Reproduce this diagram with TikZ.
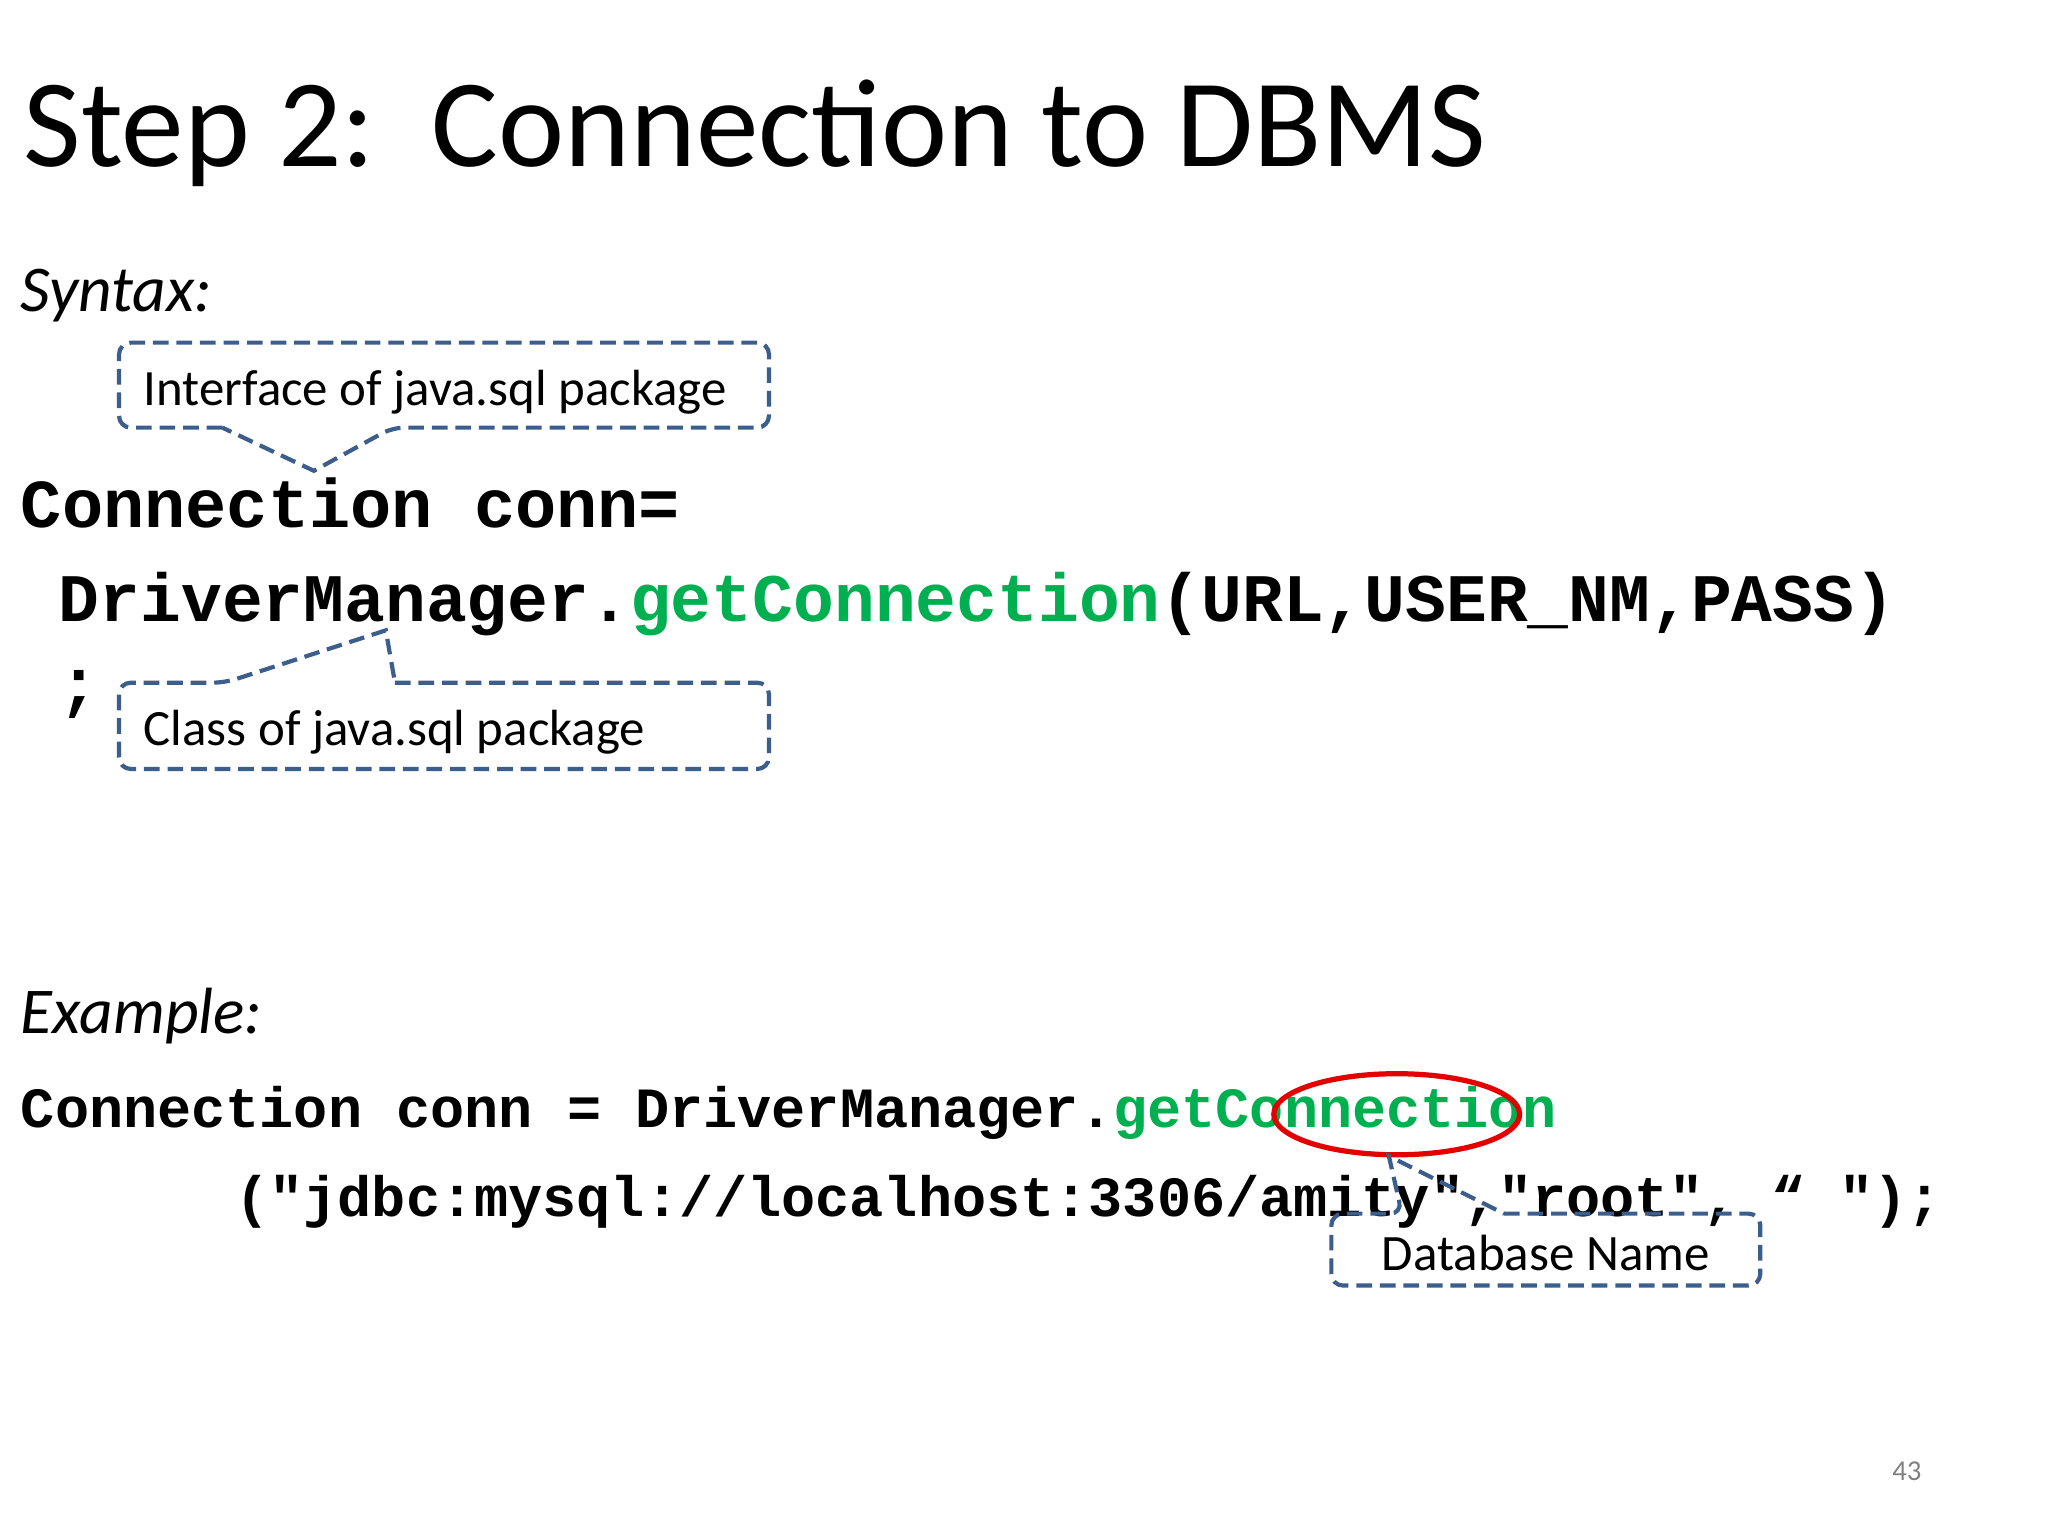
\documentclass[tikz,border=0pt]{standalone}
\usepackage{fontspec}
\setmainfont{Carlito}
\newfontfamily\codefont{Liberation Mono}
\definecolor{boxblue}{HTML}{3B5E8C}
\definecolor{codegreen}{HTML}{00B050}
\begin{document}
\begin{tikzpicture}[x=1pt,y=-1pt,
  txt/.style={anchor=base west,inner sep=0pt,outer sep=0pt},
  callout/.style={draw=boxblue,line width=3.2pt,dash pattern=on 12pt off 6pt},
  code/.style={txt,font=\codefont\bfseries}]
\useasboundingbox (0,0) rectangle (1566,1174.5);
\node[txt,font=\fontsize{95.8}{100}\selectfont] (title) at (18,127) {Step 2:\ \ Connection to DBMS};
\node[txt,font=\fontsize{50}{52}\selectfont\itshape] (syn) at (16,238) {Syntax:};
% callout 1
\draw[callout] [rounded corners=9] (170,327) -| (91,262) -| (588,327) -- (300,327) [sharp corners] -- (240,360) -- cycle;
\node[txt,font=\fontsize{38.9}{40}\selectfont] (c1) at (110,310) {Interface of java.sql package};
\node[code,font=\codefont\bfseries\fontsize{52.5}{54}\selectfont] (l1) at (16,403) {Connection conn=};
\node[code,font=\codefont\bfseries\fontsize{52}{54}\selectfont] (l2) at (45,475) {DriverManager.\textcolor{codegreen}{getConnection}(URL,USER\_NM,PASS)};
\node[code,font=\codefont\bfseries\fontsize{52}{54}\selectfont] (l3) at (45,540) {;};
% callout 2
\draw[callout] [rounded corners=9] (302,522) -| (588,588) -| (91,522) -- (172,522) [sharp corners] -- (295,482) -- cycle;
\node[txt,font=\fontsize{38.9}{40}\selectfont] (c2) at (110,570) {Class of java.sql package};
\node[txt,font=\fontsize{50}{52}\selectfont\itshape] (ex) at (16,790) {Example:};
\node[code,font=\codefont\bfseries\fontsize{43.5}{46}\selectfont] (e1) at (16,862) {Connection conn = DriverManager.\textcolor{codegreen}{getConnection}};
\node[code,font=\codefont\bfseries\fontsize{43.5}{46}\selectfont] (e2) at (180,930) {("jdbc:mysql://localhost:3306/amity","root", “ ");};
\draw[red!90!black,line width=4pt] (1068,852) ellipse [x radius=94, y radius=31];
\coordinate (tip) at (1062,884);
% callout 3
\draw[callout] [rounded corners=9] (1150,928) -| (1346,983) -| (1018,928) -- (1072,928) [sharp corners] -- (tip) -- cycle;
\node[font=\fontsize{39}{40}\selectfont,inner sep=0pt] (db) at (1182,958) {Database Name};
\node[txt,font=\fontsize{22}{24}\selectfont,text=gray] (pg) at (1447,1132) {43};
\end{tikzpicture}
\end{document}
